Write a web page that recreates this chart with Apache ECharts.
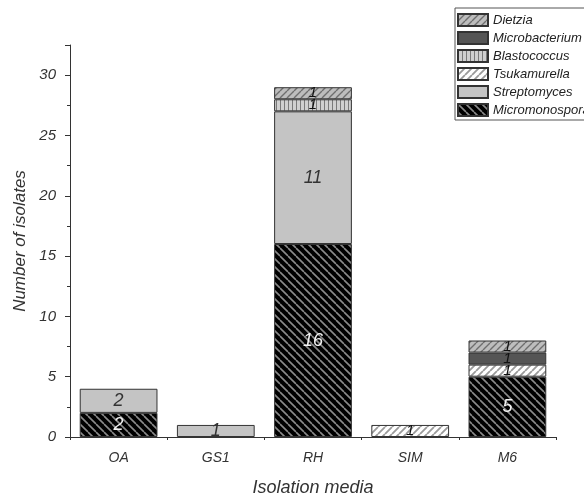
<!DOCTYPE html>
<html><head><meta charset="utf-8">
<script src="https://cdn.jsdelivr.net/npm/echarts@6/dist/echarts.min.js"></script>
<style>html,body{margin:0;padding:0;background:#fff}#c{width:584px;height:502px}</style>
</head><body><div id="c"></div>
<script>
const categories = ['OA', 'GS1', 'RH', 'SIM', 'M6'];
const micromonospora = [2, 0, 16, 0, 5];
const streptomyces = [2, 1, 11, 0, 0];
const tsukamurella = [0, 0, 0, 1, 1];
const blastococcus = [0, 0, 1, 0, 0];
const microbacterium = [0, 0, 0, 0, 1];
const dietzia = [0, 0, 1, 0, 1];
const legendOrder = ['Dietzia', 'Microbacterium', 'Blastococcus', 'Tsukamurella', 'Streptomyces', 'Micromonospora'];
const yTicks = [0, 5, 10, 15, 20, 25, 30];

function diag(bg, fg, back, s, lw) {
  const c = document.createElement('canvas'); c.width = s; c.height = s;
  const g = c.getContext('2d'); g.fillStyle = bg; g.fillRect(0, 0, s, s);
  g.strokeStyle = fg; g.lineWidth = lw; g.beginPath();
  for (let k = -1; k <= 1; k++) {
    if (back) { g.moveTo(k * s, 0); g.lineTo(k * s + s, s); }
    else { g.moveTo(k * s, s); g.lineTo(k * s + s, 0); }
  }
  g.stroke();
  return { image: c, repeat: 'repeat' };
}
function vert(bg, fg, s) {
  const c = document.createElement('canvas'); c.width = s; c.height = s;
  const g = c.getContext('2d'); g.fillStyle = bg; g.fillRect(0, 0, s, s);
  g.fillStyle = fg; g.fillRect(0, 0, 1, s);
  return { image: c, repeat: 'repeat' };
}
const FONT = '"Liberation Sans", Arial, sans-serif';
const fills = {
  Micromonospora: diag('#000000', '#8a8a8a', true, 8, 1.6),
  Streptomyces: '#c4c4c4',
  Tsukamurella: diag('#ffffff', '#9a9a9a', false, 7, 1.8),
  Blastococcus: vert('#d0d0d0', '#7a7a7a', 4),
  Microbacterium: '#555555',
  Dietzia: diag('#bdbdbd', '#6e6e6e', false, 7, 1.4)
};
const labelColors = {
  Micromonospora: '#f2f2f2', Streptomyces: '#333', Tsukamurella: '#111',
  Blastococcus: '#111', Microbacterium: '#111', Dietzia: '#111'
};
const seriesDefs = [
  ['Micromonospora', micromonospora],
  ['Streptomyces', streptomyces],
  ['Tsukamurella', tsukamurella],
  ['Blastococcus', blastococcus],
  ['Microbacterium', microbacterium],
  ['Dietzia', dietzia]
];
const series = seriesDefs.map(([name, vals]) => ({
  name, type: 'bar', stack: 'all', barWidth: '80%',
  data: vals.map(v => v === 0 ? '-' : v),
  itemStyle: { color: fills[name], borderColor: '#333', borderWidth: 1 },
  label: {
    show: true, position: 'inside', fontStyle: 'italic', fontFamily: FONT,
    fontSize: (name === 'Micromonospora' || name === 'Streptomyces') ? 18 : 15,
    color: labelColors[name]
  },
  emphasis: { disabled: true }
}));

const chart = echarts.init(document.getElementById('c'));
chart.setOption({
  animation: false,
  backgroundColor: '#fff',
  textStyle: { fontFamily: FONT },
  grid: { left: 70, right: 28, top: 45, bottom: 64 },
  legend: {
    data: legendOrder, orient: 'vertical', left: 455, top: 8, icon: 'rect',
    itemWidth: 30, itemHeight: 12, itemGap: 4, padding: [5, 5, 3, 2],
    borderColor: '#555', borderWidth: 1,
    textStyle: { fontStyle: 'italic', fontSize: 13, color: '#222', fontFamily: FONT },
    selectedMode: false
  },
  xAxis: [{
    type: 'category', data: categories,
    axisLine: { lineStyle: { color: '#333', width: 1 } },
    axisTick: { alignWithLabel: true, length: 5, lineStyle: { color: '#333' } },
    axisLabel: { fontStyle: 'italic', fontSize: 14, color: '#333', margin: 14, fontFamily: FONT },
    name: 'Isolation media', nameLocation: 'middle', nameGap: 42,
    nameTextStyle: { fontStyle: 'italic', fontSize: 18, color: '#333', fontFamily: FONT }
  }, {
    type: 'category', data: categories, position: 'bottom',
    axisLine: { show: false },
    axisTick: { show: true, length: 3, lineStyle: { color: '#333' } },
    axisLabel: { show: false }
  }],
  yAxis: {
    type: 'value', min: 0, max: 32.5, interval: 5,
    axisLine: { show: true, lineStyle: { color: '#333', width: 1 } },
    axisTick: { show: true, length: 5, lineStyle: { color: '#333' } },
    minorTick: { show: true, splitNumber: 2, length: 3, lineStyle: { color: '#333' } },
    splitLine: { show: false },
    axisLabel: { fontStyle: 'italic', fontSize: 15, color: '#333', margin: 14, fontFamily: FONT,
      showMaxLabel: false,
      formatter: v => yTicks.indexOf(v) >= 0 ? String(v) : '' },
    name: 'Number of isolates', nameLocation: 'middle', nameGap: 40,
    nameTextStyle: { fontStyle: 'italic', fontSize: 17, color: '#333', fontFamily: FONT }
  },
  series
});
</script></body></html>
